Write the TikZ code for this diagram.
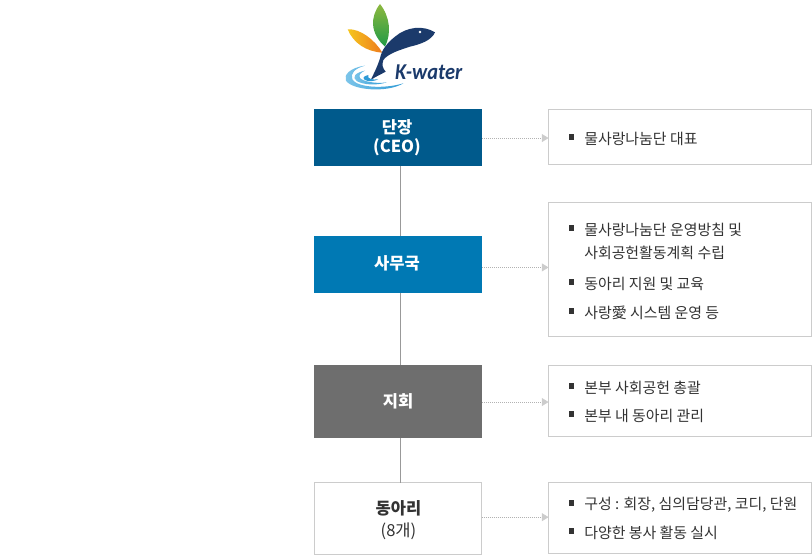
\documentclass[tikz,border=0pt]{standalone}
\usepackage{fontspec}
\setmainfont{Noto Sans CJK KR}
\newfontfamily\logofont{Carlito}
\usetikzlibrary{arrows.meta}
\definecolor{ceo}{HTML}{005A8C}
\definecolor{office}{HTML}{0079B4}
\definecolor{branch}{HTML}{6E6E6E}
\definecolor{boxline}{HTML}{CCCCCC}
\definecolor{txt}{HTML}{333333}
\definecolor{navy}{HTML}{1B3A6B}
\definecolor{leafa}{HTML}{8DB83F}
\definecolor{leafb}{HTML}{1F9A45}
\definecolor{orga}{HTML}{F5C61E}
\definecolor{orgb}{HTML}{EE7B1E}
\definecolor{ripa}{HTML}{2E9AD6}
\definecolor{ripb}{HTML}{7FC6EA}
\tikzset{
  x=0.75pt,y=-0.75pt,
  orgbox/.style={minimum width=126pt,inner sep=0pt,outer sep=0pt},
  orgtext/.style={inner sep=0pt,align=center,font=\fontsize{12.4}{15}\selectfont\bfseries,text=white},
  descbox/.style={draw=boxline,line width=0.75pt,fill=white,minimum width=197.25pt,inner sep=0pt,outer sep=0pt},
  bulletmark/.style={fill=txt,minimum size=3.8pt,inner sep=0pt,outer sep=0pt},
  itemtext/.style={anchor=west,inner sep=0pt,text=txt,font=\fontsize{11.2}{14}\selectfont},
  vline/.style={draw=black!40,line width=0.6pt},
  dotlink/.style={draw=black!30,line width=0.5pt,densely dotted,-{Triangle[length=5pt,width=6pt,fill=boxline,color=boxline]}},
}
\newcommand{\rowitem}[3]{%
  \node[bulletmark] (#1b) at (571.5,#2-1) {};
  \node[itemtext] (#1t) at (584,#2+0.5) {#3};}
\begin{document}
\begin{tikzpicture}
\useasboundingbox (0,0) rectangle (812,555);
% logo
\begin{scope}[shift={(320,0)},x=0.25pt,y=-0.25pt]
  \shade[top color=leafa,bottom color=leafb] (180,12) .. controls (150,50) and (150,100) .. (195,140) .. controls (215,100) and (210,50) .. (180,12) -- cycle;
  \shade[left color=orga,right color=orgb] (83,88) .. controls (120,85) and (165,120) .. (187,158) .. controls (140,155) and (100,130) .. (83,88) -- cycle;
  \fill[navy] (345,97) .. controls (310,75) and (260,80) .. (225,110) .. controls (200,130) and (185,150) .. (180,175) .. controls (172,200) and (162,220) .. (152,240) .. controls (170,228) and (185,222) .. (197,215) .. controls (188,205) and (185,195) .. (190,180) .. controls (205,160) and (240,150) .. (270,140) .. controls (305,132) and (335,120) .. (345,97) -- cycle;
  \fill[white] (300,96) circle (4);
  \shade[left color=ripb,right color=ripa] (135,197) .. controls (90,203) and (70,225) .. (78,242) .. controls (95,270) and (200,280) .. (250,250) .. controls (190,268) and (110,262) .. (97,238) .. controls (90,220) and (105,205) .. (135,197) -- cycle;
  \shade[left color=ripb,right color=ripa] (135,212) .. controls (105,218) and (95,232) .. (110,243) .. controls (130,255) and (170,257) .. (200,247) .. controls (170,252) and (130,245) .. (120,234) .. controls (115,225) and (122,218) .. (135,212) -- cycle;
  \fill[ripa] (145,225) .. controls (128,228) and (125,238) .. (140,242) .. controls (150,245) and (165,243) .. (175,238) .. controls (160,240) and (140,238) .. (145,225) -- cycle;
\end{scope}
\node[inner sep=0pt,anchor=base west,text=navy,xscale=0.9,font=\logofont\fontsize{17}{17}\selectfont\bfseries\itshape] (logotext) at (395,80) {K-water};
% left boxes
\node[orgbox,fill=ceo,minimum height=42.75pt] (ceo) at (398,137.5) {};
\node[orgbox,fill=office,minimum height=42.75pt] (office) at (398,264.5) {};
\node[orgbox,fill=branch,minimum height=54.75pt] (branch) at (398,401.5) {};
\node[orgbox,draw=boxline,line width=0.75pt,fill=white,minimum height=54pt,minimum width=125.25pt] (club) at (398,518.5) {};
\node[orgtext] (ceot) at (397,137.5) {단장\\[-1pt](CEO)};
\node[orgtext] (officet) at (397,263.5) {사무국};
\node[orgtext] (brancht) at (398,401.5) {지회};
\node[orgtext,text=txt,font=\fontsize{12.4}{16.5}\selectfont] (clubt) at (398.5,520.5) {{\bfseries 동아리}\\(8개)};
% right boxes
\node[descbox,minimum height=41.25pt] (d1) at (680,137) {};
\node[descbox,minimum height=100pt] (d2) at (680,269.5) {};
\node[descbox,minimum height=53.25pt] (d3) at (680,401) {};
\node[descbox,minimum height=53.25pt] (d4) at (680,518) {};
% connectors
\draw[vline] ([xshift=1.9pt]ceo.south) -- ([xshift=1.9pt]office.north);
\draw[vline] ([xshift=1.9pt]office.south) -- ([xshift=1.9pt]branch.north);
\draw[vline] ([xshift=1.9pt]branch.south) -- ([xshift=1.9pt]club.north);
\draw[dotlink] ([yshift=-0.4pt]ceo.east) -- ([yshift=-0.4pt]ceo.east -| d1.west);
\draw[dotlink] ([yshift=-2.2pt]office.east) -- ([yshift=-2.2pt]office.east -| d2.west);
\draw[dotlink] ([yshift=-0.4pt]branch.east) -- ([yshift=-0.4pt]branch.east -| d3.west);
\draw[dotlink] ([yshift=1pt]club.east) -- ([yshift=1pt]club.east -| d4.west);
% items
\rowitem{a}{138}{물사랑나눔단 대표}
\rowitem{b}{229}{물사랑나눔단 운영방침 및}
\node[itemtext] (bb) at (584,252.5) {사회공헌활동계획 수립};
\rowitem{c}{283}{동아리 지원 및 교육}
\rowitem{e}{312}{사랑愛 시스템 운영 등}
\rowitem{f}{387}{본부 사회공헌 총괄}
\rowitem{g}{415}{본부 내 동아리 관리}
\rowitem{h}{504}{구성 : 회장, 심의담당관, 코디, 단원}
\rowitem{i}{532}{다양한 봉사 활동 실시}
\end{tikzpicture}
\end{document}
